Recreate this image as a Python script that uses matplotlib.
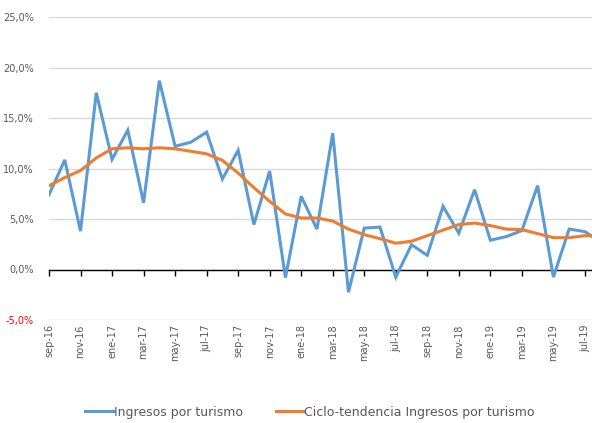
import matplotlib
matplotlib.use("Agg")
import matplotlib.pyplot as plt
from matplotlib.ticker import FuncFormatter

# monthly series, sep-16 .. ago-19 (last point is cut by the right edge)
meses = ["sep-16", "oct-16", "nov-16", "dic-16",
         "ene-17", "feb-17", "mar-17", "abr-17", "may-17", "jun-17",
         "jul-17", "ago-17", "sep-17", "oct-17", "nov-17", "dic-17",
         "ene-18", "feb-18", "mar-18", "abr-18", "may-18", "jun-18",
         "jul-18", "ago-18", "sep-18", "oct-18", "nov-18", "dic-18",
         "ene-19", "feb-19", "mar-19", "abr-19", "may-19", "jun-19",
         "jul-19", "ago-19"]

ingresos = [7.4, 10.85, 3.8, 17.5,
            10.9, 13.8, 6.6, 18.7, 12.2, 12.6,
            13.6, 8.95, 11.8, 4.45, 9.75, -0.8,
            7.25, 4.0, 13.5, -2.25, 4.1, 4.2,
            -0.75, 2.45, 1.4, 6.25, 3.6, 7.9,
            2.9, 3.25, 3.85, 8.3, -0.75, 4.0,
            3.75, 2.7]

tendencia = [8.3, 9.1, 9.8, 11.05,
             11.95, 12.05, 11.95, 12.05, 11.95, 11.7,
             11.45, 10.8, 9.55, 8.1, 6.75, 5.5,
             5.1, 5.1, 4.8, 4.0, 3.45, 3.05,
             2.6, 2.8, 3.35, 3.9, 4.45, 4.6,
             4.35, 4.0, 3.95, 3.55, 3.15, 3.15,
             3.35, 3.3]

y_ticks = [-5, 0, 5, 10, 15, 20, 25]

BLUE = "#5B9BD5"
ORANGE = "#ED7D31"
GREY = "#595959"
GRID = "#D9D9D9"

fig = plt.figure(figsize=(5.92, 4.23), dpi=100)
ax = fig.add_axes([49 / 592, 1 - 320 / 423, 1 - 49 / 592, 303 / 423])

x = list(range(len(meses)))
ax.plot(x, ingresos, color=BLUE, lw=2.2, solid_joinstyle="miter",
        label="Ingresos por turismo", zorder=3)
ax.plot(x, tendencia, color=ORANGE, lw=2.2,
        label="Ciclo-tendencia Ingresos por turismo", zorder=4)

ax.set_xlim(0, 34.45)
ax.set_ylim(-5, 25)

# horizontal grid
ax.set_yticks(y_ticks)
ax.yaxis.grid(True, color=GRID, lw=1)
ax.set_axisbelow(True)
ax.yaxis.set_major_formatter(FuncFormatter(lambda v, p: f"{v:.1f}%".replace(".", ",")))
ax.tick_params(axis="y", length=0, pad=11, labelsize=7, labelcolor=GREY)
for lab, v in zip(ax.get_yticklabels(), y_ticks):
    if v < 0:
        lab.set_color("#FF0000")

for s in ["left", "right", "top"]:
    ax.spines[s].set_visible(False)

# category axis drawn at zero, labels kept at the bottom
ax.spines["bottom"].set_position(("data", 0))
ax.spines["bottom"].set_color("black")
ax.spines["bottom"].set_linewidth(1.0)
ax.set_xticks(x[::2])
ax.tick_params(axis="x", direction="out", length=4, width=1,
               color="black", labelbottom=False)

sec = ax.secondary_xaxis(0)
sec.set_xticks(x[::2])
sec.set_xticklabels(meses[::2], rotation=90, fontsize=7, color=GREY)
sec.tick_params(length=0, pad=3)
sec.spines["bottom"].set_visible(False)

fig.legend(loc="center", bbox_to_anchor=(0.524, 0.026), ncol=2,
           frameon=False, fontsize=9, handlelength=2.2, columnspacing=2.6,
           handletextpad=0.1, labelcolor=GREY)

fig.savefig("out.png", dpi=100)
